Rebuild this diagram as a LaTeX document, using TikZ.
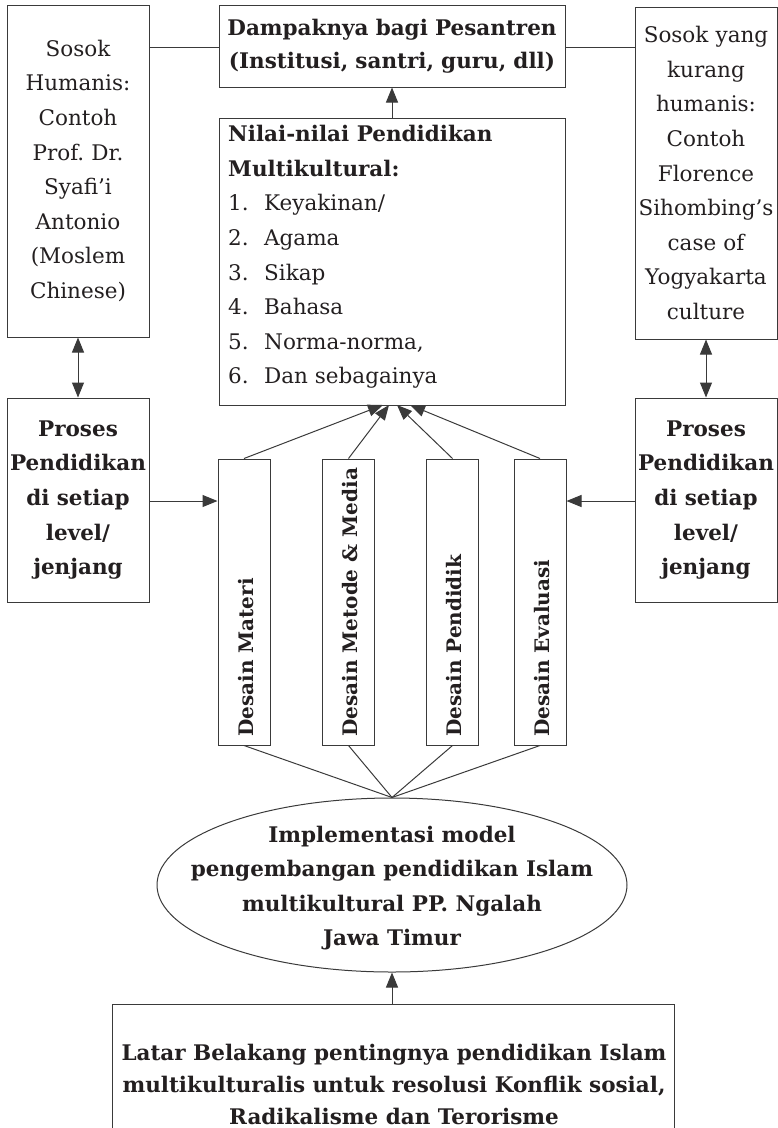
\documentclass[tikz,border=0pt]{standalone}
\usepackage{fontspec}
\setmainfont{DejaVu Serif}
\usetikzlibrary{arrows.meta,shapes.geometric}
\definecolor{ink}{HTML}{231F20}
\definecolor{linec}{HTML}{3A3A3A}
\frenchspacing
\begin{document}
\begin{tikzpicture}[x=1pt,y=-1pt,
  boxsty/.style={draw=linec, line width=1pt, inner sep=0pt, rectangle},
  txt/.style={font=\fontsize{21.5}{34.6}\selectfont, text=ink, inner sep=0pt},
  btxt/.style={font=\fontsize{21.5}{34.6}\selectfont\bfseries, text=ink, inner sep=0pt},
  vtxt/.style={font=\fontsize{20}{24}\selectfont\bfseries, text=ink, inner sep=0pt, rotate=90, anchor=west},
  conn/.style={draw=linec, line width=1pt},
  arr/.style={conn, -{Triangle[length=15pt,width=12pt]}},
  darr/.style={conn, {Triangle[length=15pt,width=12pt]}-{Triangle[length=15pt,width=12pt]}}
]
\useasboundingbox (0,0) rectangle (778,1128);
\clip (0,0) rectangle (778,1128);

% top left box
\node[boxsty, txt, minimum width=142pt, minimum height=332pt, text width=142pt, align=center] (lbox) at (78,171)
  {Sosok\\Humanis:\\Contoh\\Prof. Dr.\\Syafi’i\\Antonio\\(Moslem\\Chinese)};
% top right box
\node[boxsty, txt, minimum width=142pt, minimum height=332pt, text width=142pt, align=center] (rbox) at (706,173)
  {Sosok yang\\kurang\\humanis:\\Contoh\\Florence\\Sihombing’s\\case of\\Yogyakarta\\culture};
% Dampak box
\node[boxsty, btxt, minimum width=346pt, minimum height=82pt, text width=346pt, align=center, font=\fontsize{21.5}{33}\selectfont\bfseries] (dbox) at (392,46)
  {Dampaknya bagi Pesantren\\(Institusi, santri, guru, dll)};
% Nilai box
\node[boxsty, minimum width=346pt, minimum height=287pt] (nbox) at (392,261.5) {};
\node[txt, anchor=west, align=left] (ntext) at (228,257)
  {\textbf{Nilai-nilai Pendidikan}\\\textbf{Multikultural:}\\
   \makebox[36pt][l]{1.}Keyakinan/\\
   \makebox[36pt][l]{2.}Agama\\
   \makebox[36pt][l]{3.}Sikap\\
   \makebox[36pt][l]{4.}Bahasa\\
   \makebox[36pt][l]{5.}Norma-norma,\\
   \makebox[36pt][l]{6.}Dan sebagainya};

% Proses boxes
\node[boxsty, btxt, minimum width=142pt, minimum height=204pt, text width=142pt, align=center] (lp) at (78,500)
  {Proses\\Pendidikan\\di setiap\\level/\\jenjang};
\node[boxsty, btxt, minimum width=142pt, minimum height=204pt, text width=142pt, align=center] (rp) at (706,500)
  {Proses\\Pendidikan\\di setiap\\level/\\jenjang};

% Desain boxes
\node[boxsty, minimum width=52pt, minimum height=286pt] (d1) at (244,602) {};
\node[boxsty, minimum width=52pt, minimum height=286pt] (d2) at (348.5,602) {};
\node[boxsty, minimum width=52pt, minimum height=286pt] (d3) at (452.5,602) {};
\node[boxsty, minimum width=52pt, minimum height=286pt] (d4) at (540,602) {};
\node[vtxt] (d1t) at (246,737) {Desain Materi};
\node[vtxt] (d2t) at (350.5,737) {Desain Metode \& Media};
\node[vtxt] (d3t) at (454.5,737) {Desain Pendidik};
\node[vtxt] (d4t) at (542,737) {Desain Evaluasi};

% Ellipse
\node[ellipse, draw=linec, line width=1pt, minimum width=470pt, minimum height=174pt, inner sep=0pt] (ell) at (392,885) {};
\node[btxt, align=center] (elltext) at (392,888)
  {Implementasi model\\pengembangan pendidikan Islam\\multikultural PP. Ngalah\\Jawa Timur};

% Bottom box
\node[boxsty, minimum width=562pt, minimum height=160pt] (bbox) at (393,1084) {};
\node[btxt, align=center, font=\fontsize{21.5}{32}\selectfont\bfseries] (btext) at (394,1084)
  {Latar Belakang pentingnya pendidikan Islam\\multikulturalis untuk resolusi Konflik sosial,\\Radikalisme dan Terorisme};

% coordinates for arrow tips
\coordinate (t1) at (383,405);
\coordinate (t2) at (389,405);
\coordinate (t3) at (397,405);
\coordinate (t4) at (410,405);

% connectors
\draw[conn] (lbox.east |- 0,47) -- (dbox.west |- 0,47);
\draw[conn] (dbox.east |- 0,47) -- (rbox.west |- 0,47);
\draw[arr] (nbox.north) -- (dbox.south);
\draw[darr] (lbox.south) -- (lp.north);
\draw[darr] (rbox.south) -- (rp.north);
\draw[arr] (lp.east |- 0,501) -- (d1.west |- 0,501);
\draw[arr] (rp.west |- 0,501) -- (d4.east |- 0,501);
\draw[arr] (d1.north) -- (t1);
\draw[arr] (d2.north) -- (t2);
\draw[arr] (d3.north) -- (t3);
\draw[arr] (d4.north) -- (t4);
\draw[conn] (d1.south) -- (ell.north);
\draw[conn] (d2.south) -- (ell.north);
\draw[conn] (d3.south) -- (ell.north);
\draw[conn] (d4.south) -- (ell.north);
\draw[arr] (bbox.north -| ell.south) -- (ell.south);
\end{tikzpicture}
\end{document}
